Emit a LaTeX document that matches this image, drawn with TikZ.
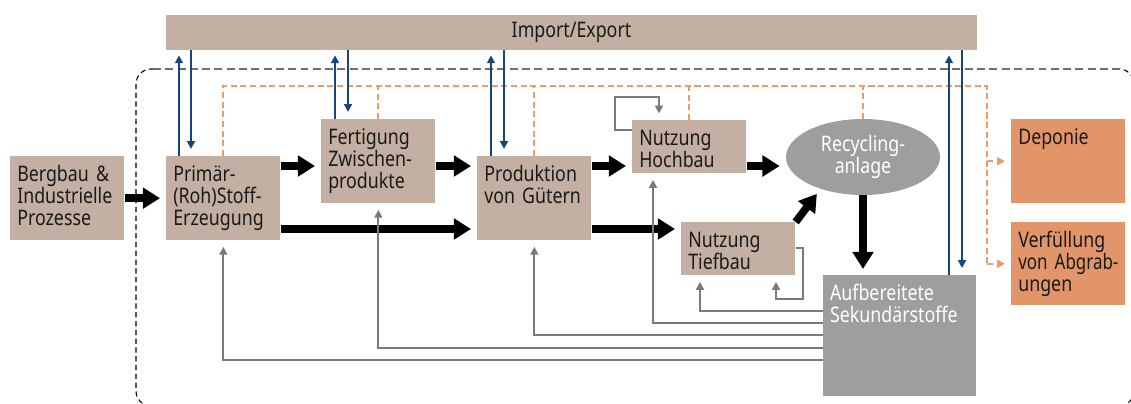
\documentclass[tikz,border=0pt]{standalone}
\usepackage{fontspec}
\setmainfont{Noto Sans}[FakeStretch=0.83]
\newfontfamily\tightfont{Noto Sans}[FakeStretch=0.79]
\usetikzlibrary{arrows.meta,shapes.geometric}
\definecolor{BoxTan}{HTML}{C3B0A2}
\definecolor{BoxGray}{HTML}{9D9E9D}
\definecolor{BoxOrange}{HTML}{E3956A}
\definecolor{FlowBlue}{HTML}{17477A}
\definecolor{FlowGray}{HTML}{7A7A7A}
\definecolor{FlowPeach}{HTML}{EC9A68}
\definecolor{FrameGray}{HTML}{6F6F6F}
\definecolor{Ink}{HTML}{1A1A1A}

\begin{document}
\begin{tikzpicture}[
    x=0.02cm, y=-0.02cm,
    font=\fontsize{12.2pt}{12.5pt}\selectfont,
    box/.style={
        fill=BoxTan,
        text=Ink,
        anchor=north west,
        align=left,
        text width=57pt,
        minimum width=2.28cm,
        inner xsep=3.8pt,
        inner ysep=3pt,
        text height=11.6pt,
        text depth=30pt
    },
    flat/.style={text depth=12.4pt},
    sink/.style={fill=BoxOrange},
    stock/.style={fill=BoxGray, text=white, text width=79pt,
                  minimum width=3.04cm, text depth=51pt},
    plant/.style={ellipse, fill=BoxGray, text=white, align=center,
                  minimum width=3.08cm, minimum height=1.52cm, inner sep=0pt},
    bar/.style={fill=BoxTan, text=Ink, minimum width=16.22cm,
                minimum height=0.7cm, inner sep=0pt},
    bulk/.style={-{Triangle[length=9.8pt,width=11.6pt]},
                 line width=4.4pt, shorten >=0.12cm},
    io/.style={-{Triangle[length=4.5pt,width=4.5pt]},
               draw=FlowBlue, line width=1.1pt},
    back/.style={-{Triangle[length=4.5pt,width=4.5pt]},
                 draw=FlowGray, line width=1.1pt, shorten >=0.13cm},
    dump/.style={draw=FlowPeach, line width=1.2pt,
                 dash pattern=on 3.5pt off 2pt},
    dump tip/.style={-{Triangle[length=4.5pt,width=4.5pt]},
                     shorten >=0.12cm},
    frame/.style={draw=black, line width=0.6pt,
                  dash pattern=on 3pt off 2pt, rounded corners=0.3cm},
    top rule/.style={draw=FrameGray, line width=1.2pt,
                     dash pattern=on 4.5pt off 2.5pt}
]
    \useasboundingbox (0,0) rectangle (1131,404);

    \begin{scope}
        \clip (0,0) rectangle (1131,404);
        \draw[frame] (154,69) -| (136,406) -| (1134,69) -- (1118,69);
    \end{scope}
    \draw[top rule] (153,69) -- (1121,69);

    \node[bar] (impex) at (571.5,32.5) {Import/Export};

    \node[box] (berg) at (10,156) {Bergbau~\&\\Industrielle\\Prozesse};
    \node[box] (prim) at (166,156) {Primär-\\(Roh)Stoff-\\Erzeugung};
    \node[box] (fert) at (321,119) {Fertigung\\Zwischen-\\produkte};
    \node[box] (prod) at (477,156) {Produktion\\von~Gütern};
    \node[box, flat] (hoch) at (632,120) {Nutzung\\Hochbau};
    \node[box, flat] (tief) at (681,222) {Nutzung\\Tiefbau};
    \node[plant] (recy) at (863,157) {Recycling-\\anlage};
    \node[box, stock] (aufb) at (823,275) {Aufbereitete\\Sekundärstoffe};
    \node[box, sink] (depo) at (1011,119) {Deponie};
    \node[box, sink, text depth=29.5pt] (verf) at (1011,222)
        {Verfüllung\\\mbox{\tightfont von Abgrab-}\\ungen};

    % disposal paths
    \coordinate (bend) at (987,86);
    \draw[dump] (prim.north) |- (bend) -- (bend |- verf.west);
    \foreach \n in {fert,prod,hoch,recy}
        \draw[dump] (\n.north) -- (\n.north |- bend);
    \draw[dump, dump tip] (bend |- depo.west) -- (depo.west);
    \draw[dump, dump tip] (bend |- verf.west) -- (verf.west);

    % main material flow
    \draw[bulk] (berg) -- (prim);
    \draw[bulk] (prim.east |- 0,166) -- (fert.west |- 0,166);
    \draw[bulk] (fert.east |- 0,166) -- (prod.west |- 0,166);
    \draw[bulk] (prim.east |- 0,229) -- (prod.west |- 0,229);
    \draw[bulk] (prod.east |- 0,166) -- (hoch.west |- 0,166);
    \draw[bulk] (prod.east |- 0,229) -- (tief.west |- 0,229);
    \draw[bulk] (hoch.east |- 0,166) -- (recy.west |- 0,166);
    \draw[bulk] (tief.north east) -- (recy.217);
    \draw[bulk] (recy.south) -- (recy.south |- aufb.north);

    % trade
    \foreach \n/\ux/\dx in {prim/179/191, fert/335/348, prod/491/504, aufb/949/962} {
        \draw[io, shorten >=0.1cm] (\n.north -| \ux,0) -- (impex.south -| \ux,0);
        \draw[io, shorten >=0.14cm] (impex.south -| \dx,0) -- (\n.north -| \dx,0);
    }

    % secondary material returns
    \foreach \n/\yy in {prim/360, fert/348, prod/335}
        \draw[back] (aufb.west |- 0,\yy) -| (\n.south);
    \draw[back] (aufb.west |- 0,323) -| (653,0 |- hoch.south);
    \draw[back] (aufb.west |- 0,311) -| (700,0 |- tief.south);
    \draw[back] (tief.east |- 0,248) -| (803,299) -| (776,0 |- tief.south);
    \draw[back] (hoch.west |- 0,130) -| (615,97) -| (659,0 |- hoch.north);
\end{tikzpicture}
\end{document}
